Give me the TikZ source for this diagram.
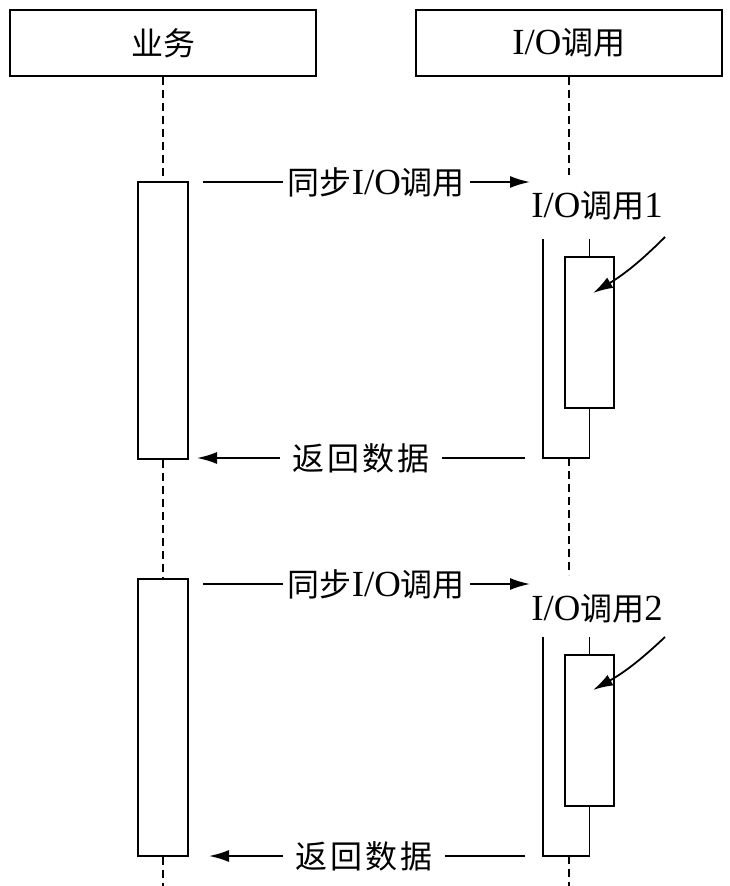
\documentclass[tikz,border=0pt]{standalone}
\usepackage{fontspec}
\setmainfont{Liberation Serif}[Scale=1.15]
\newfontfamily\cjk{Noto Sans CJK SC}
\newfontfamily\cjkwide{Noto Sans CJK SC}[LetterSpace=10]
\usetikzlibrary{arrows.meta, positioning}
\tikzset{
    head/.style={rectangle, draw, line width=1.8pt, minimum width=306pt,
        minimum height=66pt, inner sep=0pt, font=\fontsize{32}{38}\selectfont},
    actbox/.style={rectangle, draw, line width=1.8pt, minimum width=50pt,
        minimum height=277pt, inner sep=0pt},
    iobox/.style={rectangle, draw, line width=1.8pt, minimum width=49pt,
        minimum height=151pt, inner sep=0pt},
    txt/.style={inner sep=0pt, font=\fontsize{32}{38}\selectfont},
    lbl/.style={fill=white, inner ysep=2pt, inner xsep=5pt, font=\fontsize{32}{38}\selectfont},
    life/.style={line width=1.5pt, dash pattern=on 8pt off 5pt},
    edge/.style={line width=1.8pt},
    msg/.style={-{Latex[length=20pt, width=12pt]}, line width=1.8pt}
}
\newcommand{\zh}[1]{{\cjk #1}}
\newcommand{\zhw}[1]{{\cjkwide #1}}

\begin{document}
\begin{tikzpicture}[x=1pt, y=-1pt]
    \useasboundingbox (0,0) rectangle (730,886);

    \node[head] (biz) at (163,43) {\zh{业务}};
    \node[head] (io) at (569,43) {I/O\zh{调用}};

    % first synchronous call
    \node[actbox] (act1) at (163,320.5) {};
    \node[iobox] (call1) at (589.5,332.5) {};
    \node[txt] (name1) at (597,206) {I/O\zh{调用}1};
    \coordinate (req1s) at (203,182);
    \coordinate (req1e) at (530,182);
    \coordinate (ret1s) at (525,458);
    \coordinate (ret1e) at (197,458);
    \coordinate (out1) at (543,239);
    \coordinate (top1) at (call1.north |- out1);
    \coordinate (bot1) at (call1.south |- ret1s);
    \coordinate (gap1) at (569,175);
    \coordinate (mid1) at (569,458);
    \coordinate (pt1) at (665,237);
    \coordinate (tip1) at (593,293);

    % second synchronous call
    \node[actbox] (act2) at (163,717.5) {};
    \node[iobox] (call2) at (589.5,730.5) {};
    \node[txt] (name2) at (597,609) {I/O\zh{调用}2};
    \coordinate (req2s) at (203,584);
    \coordinate (req2e) at (530,584);
    \coordinate (ret2s) at (525,856);
    \coordinate (ret2e) at (209,856);
    \coordinate (out2) at (543,637);
    \coordinate (top2) at (call2.north |- out2);
    \coordinate (bot2) at (call2.south |- ret2s);
    \coordinate (gap2) at (569,575);
    \coordinate (mid2) at (569,856);
    \coordinate (pt2) at (665,637);
    \coordinate (tip2) at (593,690);

    \coordinate (endl) at (163,886);
    \coordinate (endr) at (569,886);

    % lifelines
    \draw[life] (biz) -- (act1);
    \draw[life] (act1) -- (act2);
    \draw[life] (act2) -- (endl);
    \draw[life] (io) -- (gap1);
    \draw[life] (mid1) -- (gap2);
    \draw[life] (mid2) -- (endr);

    % brackets round the I/O calls
    \draw[edge] (out1) |- (bot1) -- (call1.south);
    \draw[edge] (top1) -- (call1.north);
    \draw[edge] (out2) |- (bot2) -- (call2.south);
    \draw[edge] (top2) -- (call2.north);

    % messages
    \draw[msg] (req1s) -- node[lbl, pos=0.53] {\zh{同步}I/O\zh{调用}} (req1e);
    \draw[msg] (ret1s) -- node[lbl, inner xsep=12pt] {\zhw{返回数据}} (ret1e);
    \draw[msg] (req2s) -- node[lbl, pos=0.53] {\zh{同步}I/O\zh{调用}} (req2e);
    \draw[msg] (ret2s) -- node[lbl, inner xsep=12pt, pos=0.51] {\zhw{返回数据}} (ret2e);

    \draw[msg] (pt1) to[bend left=7] (tip1);
    \draw[msg] (pt2) to[bend left=7] (tip2);

\end{tikzpicture}
\end{document}
